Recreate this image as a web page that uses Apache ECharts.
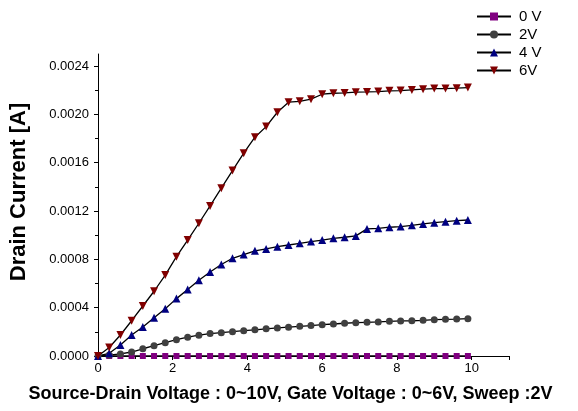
<!DOCTYPE html>
<html>
<head>
<meta charset="utf-8">
<script src="https://cdn.jsdelivr.net/npm/echarts@6/dist/echarts.min.js"></script>
<style>html,body{margin:0;padding:0;background:#fff;}#c{width:578px;height:411px;}</style>
</head>
<body>
<div id="c"></div>
<script>
const seriesNames = ['0 V', '2V', '4 V', '6V'];
const xs = [0, 0.3, 0.6, 0.9, 1.2, 1.5, 1.8, 2.1, 2.4, 2.7, 3.0, 3.3, 3.6, 3.9, 4.2, 4.5, 4.8, 5.1, 5.4, 5.7, 6.0, 6.3, 6.6, 6.9, 7.2, 7.5, 7.8, 8.1, 8.4, 8.7, 9.0, 9.3, 9.6, 9.9];
const v0 = [0, 0, 0, 0, 0, 0, 0, 0, 0, 0, 0, 0, 0, 0, 0, 0, 0, 0, 0, 0, 0, 0, 0, 0, 0, 0, 0, 0, 0, 0, 0, 0, 0, 0];
const v2 = [0, 0.000008, 0.000017, 0.000033, 0.00006, 0.000085, 0.00011, 0.000135, 0.000156, 0.000172, 0.000186, 0.000193, 0.000201, 0.00021, 0.000217, 0.000225, 0.000232, 0.000239, 0.000246, 0.000252, 0.000259, 0.000265, 0.000271, 0.000276, 0.000279, 0.000282, 0.000287, 0.00029, 0.000292, 0.000295, 0.000301, 0.000304, 0.000306, 0.000309];
const v4 = [0, 0.000022, 0.000091, 0.000174, 0.00024, 0.000316, 0.000391, 0.000475, 0.00055, 0.000627, 0.000695, 0.000757, 0.000809, 0.00084, 0.000871, 0.000886, 0.000905, 0.000919, 0.000933, 0.000947, 0.00096, 0.000974, 0.000983, 0.000994, 0.001052, 0.001057, 0.001066, 0.001071, 0.001082, 0.001093, 0.001104, 0.001112, 0.00112, 0.001126];
const v6 = [0, 0.00007, 0.000174, 0.000292, 0.000414, 0.000536, 0.00067, 0.000822, 0.00096, 0.001099, 0.001242, 0.001389, 0.001535, 0.001679, 0.001811, 0.001899, 0.002018, 0.002101, 0.002108, 0.002126, 0.002167, 0.002175, 0.002178, 0.002184, 0.002186, 0.002189, 0.002195, 0.002197, 0.002203, 0.002209, 0.002214, 0.002214, 0.002217, 0.002222];
const yTicks = [0, 0.0004, 0.0008, 0.0012, 0.0016, 0.002, 0.0024];
const yTickLabels = ['0.0000', '0.0004', '0.0008', '0.0012', '0.0016', '0.0020', '0.0024'];
const xTicks = [0, 2, 4, 6, 8, 10];
const xTitle = 'Source-Drain Voltage : 0~10V, Gate Voltage : 0~6V, Sweep :2V';
const yTitle = 'Drain Current [A]';

const FONT = 'Arial, "Liberation Sans", Helvetica, sans-serif';
const pair = v => xs.map((x, i) => [x, v[i]]);
const mk = (name, vals, symbol, size, color, rot) => ({
  name, type: 'line', data: pair(vals), symbol, symbolSize: size, symbolRotate: rot || 0,
  showAllSymbol: true,
  lineStyle: { color: '#000', width: 1.3 },
  itemStyle: { color: color, borderWidth: 0 },
  emphasis: { disabled: true }, animation: false
});

const chart = echarts.init(document.getElementById('c'), null, { renderer: 'canvas' });
chart.setOption({
  animation: false,
  backgroundColor: '#fff',
  textStyle: { fontFamily: FONT },
  grid: { left: 96, right: 69, top: 54, bottom: 55, containLabel: false },
  legend: {
    orient: 'vertical', left: 476, top: 9, padding: 0, itemGap: 3, itemWidth: 34, itemHeight: 10,
    data: seriesNames,
    lineStyle: { width: 2 },
    textStyle: { fontFamily: FONT, fontSize: 15, color: '#000', padding: [0, 0, 0, 3] }
  },
  xAxis: {
    type: 'value', min: 0, max: 11, interval: 2,
    name: xTitle, nameLocation: 'middle', nameGap: 29,
    nameTextStyle: { fontFamily: FONT, fontSize: 18, fontWeight: 'bold', color: '#000', padding: [0, 26, 0, 0] },
    axisLine: { show: true, lineStyle: { color: '#000', width: 1 } },
    axisTick: { show: true, length: 4, lineStyle: { color: '#000' }, customValues: xTicks.concat([11]) },
    minorTick: { show: true, splitNumber: 2, length: 3, lineStyle: { color: '#000' } },
    axisLabel: { fontFamily: FONT, fontSize: 13, color: '#000', margin: 6, customValues: xTicks },
    splitLine: { show: false }
  },
  yAxis: {
    type: 'value', min: 0, max: 0.0025, interval: 0.0004,
    name: yTitle, nameLocation: 'middle', nameGap: 68, nameRotate: 90,
    nameTextStyle: { fontFamily: FONT, fontSize: 22, fontWeight: 'bold', color: '#000', padding: [0, 0, 0, 26] },
    axisLine: { show: true, lineStyle: { color: '#000', width: 1 } },
    axisTick: { show: true, length: 4, lineStyle: { color: '#000' }, customValues: yTicks },
    minorTick: { show: true, splitNumber: 2, length: 3, lineStyle: { color: '#000' } },
    axisLabel: {
      fontFamily: FONT, fontSize: 13, color: '#000', margin: 9, customValues: yTicks,
      formatter: v => { const i = yTicks.findIndex(t => Math.abs(t - v) < 1e-9); return i >= 0 ? yTickLabels[i] : ''; }
    },
    splitLine: { show: false }
  },
  series: [
    mk(seriesNames[0], v0, 'rect', 6, '#800080'),
    mk(seriesNames[1], v2, 'circle', 7, '#404040'),
    mk(seriesNames[2], v4, 'triangle', 8, '#000080'),
    mk(seriesNames[3], v6, 'triangle', 8, '#800000', 180)
  ]
});
</script>
</body>
</html>
